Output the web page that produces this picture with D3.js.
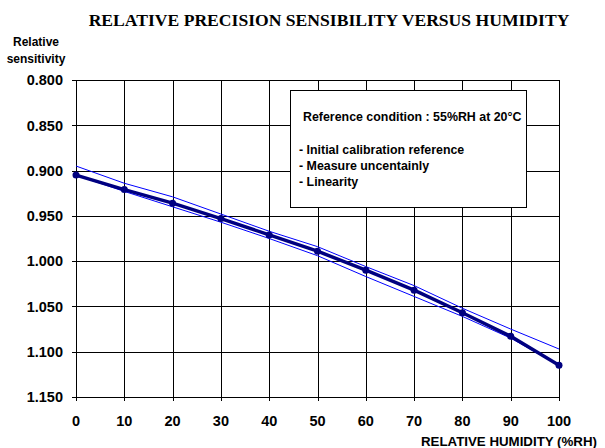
<!DOCTYPE html>
<html><head><meta charset="utf-8">
<script src="https://cdn.jsdelivr.net/npm/d3@7"></script>
<style>body{margin:0;background:#fff}svg{display:block}</style>
</head><body>
<svg id="c" width="605" height="448"></svg>
<script>
const humidity = [0,10,20,30,40,50,60,70,80,90,100];
const sensitivity = [0.905,0.921,0.936,0.953,0.971,0.989,1.010,1.032,1.057,1.083,1.115];
const upperBound = [0.895,0.914,0.929,0.948,0.967,0.984,1.006,1.027,1.052,1.075,1.097];
const lowerBound = [0.905,0.923,0.940,0.957,0.975,0.994,1.017,1.039,1.061,1.085,1.115];
const yTicks = [0.80,0.85,0.90,0.95,1.00,1.05,1.10,1.15];
const xTicks = [0,10,20,30,40,50,60,70,80,90,100];
const boxLines = ["- Initial calibration reference","- Measure uncentainly","- Linearity"];

const svg = d3.select("#c");
const L=76, R=559, T=80, B=397;
const x = d3.scaleLinear().domain([0,100]).range([L,R]);
const y = d3.scaleLinear().domain([0.80,1.15]).range([T,B]);
const font = "Arial, 'Liberation Sans', sans-serif";

// grid
const g = svg.append("g").attr("shape-rendering","crispEdges");
g.selectAll(".hg").data(yTicks).join("line")
  .attr("x1",L-4).attr("x2",R).attr("y1",d=>Math.round(y(d))+0.5).attr("y2",d=>Math.round(y(d))+0.5)
  .attr("stroke","#000").attr("stroke-width",1);
g.selectAll(".vg").data(xTicks).join("line")
  .attr("y1",T).attr("y2",B+4).attr("x1",d=>Math.round(x(d))+0.5).attr("x2",d=>Math.round(x(d))+0.5)
  .attr("stroke","#000").attr("stroke-width",1);

// tick labels
svg.selectAll(".yl").data(yTicks).join("text")
  .attr("x",63).attr("y",d=>y(d)).attr("dy","0.36em").attr("text-anchor","end")
  .attr("font-family",font).attr("font-weight","bold").attr("font-size",14.5)
  .text(d=>d3.format(".3f")(d));
svg.selectAll(".xl").data(xTicks).join("text")
  .attr("x",d=>x(d)).attr("y",426).attr("text-anchor","middle")
  .attr("font-family",font).attr("font-weight","bold").attr("font-size",14.5)
  .text(d=>d);

// axis titles
svg.append("text").attr("x",597).attr("y",446).attr("text-anchor","end")
  .attr("font-family",font).attr("font-weight","bold").attr("font-size",13.3)
  .text("RELATIVE HUMIDITY (%RH)");
svg.append("text").attr("x",36).attr("y",46).attr("text-anchor","middle")
  .attr("font-family",font).attr("font-weight","bold").attr("font-size",12).text("Relative");
svg.append("text").attr("x",36).attr("y",63).attr("text-anchor","middle")
  .attr("font-family",font).attr("font-weight","bold").attr("font-size",12).text("sensitivity");
svg.append("text").attr("x",329).attr("y",26).attr("text-anchor","middle")
  .attr("font-family","'Times New Roman', 'Liberation Serif', serif").attr("font-weight","bold").attr("font-size",17.6)
  .text("RELATIVE PRECISION SENSIBILITY VERSUS HUMIDITY");

// box
svg.append("rect").attr("x",290.5).attr("y",90.5).attr("width",236).attr("height",117)
  .attr("fill","#fff").attr("stroke","#000").attr("stroke-width",1);
svg.append("text").attr("x",303).attr("y",121)
  .attr("font-family",font).attr("font-weight","bold").attr("font-size",12.4)
  .text("Reference condition : 55%RH at 20°C");
svg.selectAll(".bl").data(boxLines).join("text")
  .attr("x",299).attr("y",(d,i)=>154+i*15.8)
  .attr("font-family",font).attr("font-weight","bold").attr("font-size",12.4)
  .text(d=>d);

// lines
const line = d3.line().x(d=>x(d[0])).y(d=>y(d[1]));
const thin = [upperBound, lowerBound];
svg.selectAll(".thin").data(thin).join("path")
  .attr("d",s=>line(humidity.map((h,i)=>[h,s[i]])))
  .attr("fill","none").attr("stroke","#0000ff").attr("stroke-width",1);
const main = humidity.map((h,i)=>[h,sensitivity[i]]);
svg.append("path").attr("d",line(main)).attr("fill","none")
  .attr("stroke","#000080").attr("stroke-width",3.5).attr("stroke-linejoin","round");
svg.selectAll(".pt").data(main).join("circle")
  .attr("cx",d=>x(d[0])).attr("cy",d=>y(d[1])).attr("r",3.5).attr("fill","#000080");
</script>
</body></html>
